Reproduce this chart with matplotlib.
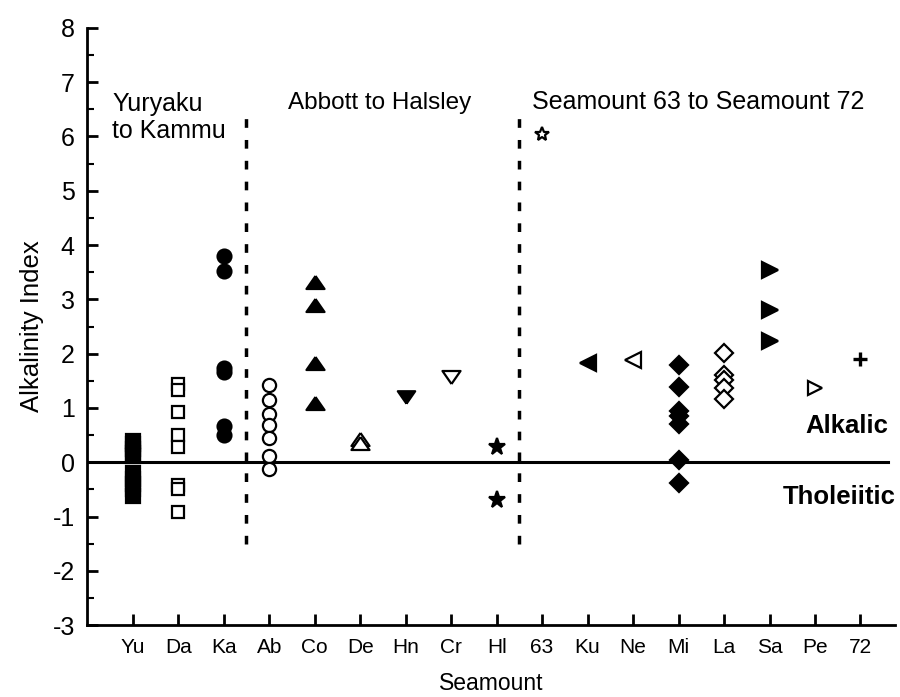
import numpy as np
import matplotlib
matplotlib.use("Agg")
import matplotlib.pyplot as plt
from matplotlib.ticker import MultipleLocator

plt.rcParams['font.family'] = ['Liberation Sans', 'DejaVu Sans']
plt.rcParams['axes.unicode_minus'] = False

# Alkalinity index of lavas, one list per seamount (south to north)
seamounts = ["Yu", "Da", "Ka", "Ab", "Co", "De", "Hn", "Cr", "Hl",
             "63", "Ku", "Ne", "Mi", "La", "Sa", "Pe", "72"]

yu = [0.40, 0.33, 0.25, 0.18, 0.11, -0.20, -0.30, -0.40, -0.50, -0.62]
da = [1.45, 1.33, 0.93, 0.51, 0.29, -0.41, -0.50, -0.92]
ka = [3.80, 3.52, 1.73, 1.66, 0.67, 0.50]
ab = [1.42, 1.14, 0.89, 0.69, 0.44, 0.12, -0.13]
co = [3.32, 2.90, 1.82, 1.10]
de = [0.43, 0.35]
hn = [1.20]
cr = [1.58]
hl = [0.29, -0.70]
s63 = [6.05]
ku = [1.82]
ne = [1.88]
mi = [1.80, 1.38, 0.95, 0.86, 0.70, 0.05, -0.38]
la = [2.02, 1.60, 1.52, 1.36, 1.17]
sa = [3.55, 2.80, 2.23]
pe = [1.36]
s72 = [1.90]

values = [yu, da, ka, ab, co, de, hn, cr, hl, s63, ku, ne, mi, la, sa, pe, s72]

# wide, flat triangles (closed paths so the open ones get a full outline)
tri_up = [(0, 0.72), (-1, -0.72), (1, -0.72), (0, 0.72)]
tri_dn = [(0, -0.72), (-1, 0.72), (1, 0.72), (0, -0.72)]

# marker, size, filled
styles = [
    ('s', 9.5, True), ('s', 9, False), ('o', 10, True), ('o', 9.5, False),
    (tri_up, 13, True), (tri_up, 13, False), (tri_dn, 12.5, True),
    (tri_dn, 13, False), ('*', 12.5, True), ('*', 10, False),
    ('<', 11, True), ('<', 11, False), ('D', 8.8, True), ('D', 8.8, False),
    ('>', 11, True), ('>', 9.5, False), ('+', 9.5, True),
]

fig = plt.figure(figsize=(9, 6.97), dpi=100)
ax = fig.add_axes([0.097, 0.103, 0.897, 0.857])

x = np.arange(len(seamounts))
for xi, vals, (mk, ms, filled) in zip(x, values, styles):
    ax.plot([xi] * len(vals), vals, linestyle='none', marker=mk,
            markersize=ms, markeredgecolor='black',
            markerfacecolor='black' if filled else 'white',
            markeredgewidth=2.4 if mk == '+' else 1.6, zorder=3)

# alkalic / tholeiitic divide
ax.plot([-1, 16.6], [0, 0], color='black', linewidth=2.2, zorder=2)

# group boundaries
for xb in [2.5, 8.5]:
    ax.plot([xb, xb], [-1.5, 6.5], color='black', linewidth=2.5,
            linestyle=(0, (2.5, 3.5)), zorder=1)

ax.text(-0.45, 5.98, "Yuryaku\nto Kammu", fontsize=18, ha='left',
        va='baseline', linespacing=1.15)
ax.text(3.41, 6.5, "Abbott to Halsley", fontsize=17.5, ha='left', va='baseline')
ax.text(8.78, 6.5, "Seamount 63 to Seamount 72", fontsize=18, ha='left',
        va='baseline')
ax.text(16.62, 0.66, "Alkalic", fontsize=18.5, fontweight='bold',
        ha='right', va='center')
ax.text(16.78, -0.64, "Tholeiitic", fontsize=18.5, fontweight='bold',
        ha='right', va='center')

ax.set_xlim(-1.0, 16.75)
ax.set_ylim(-3, 8)
ax.set_xticks(x)
ax.set_xticklabels(seamounts, fontsize=15)
ax.yaxis.set_major_locator(MultipleLocator(1))
ax.yaxis.set_minor_locator(MultipleLocator(0.5))
ax.tick_params(axis='both', which='major', direction='in', length=8,
               width=2, pad=9)
ax.tick_params(axis='y', which='major', labelsize=18)
ax.tick_params(axis='y', which='minor', direction='in', length=5, width=1.5)

ax.set_ylabel("Alkalinity Index", fontsize=18.5, labelpad=6)
ax.set_xlabel("Seamount", fontsize=16.5, labelpad=11)

for side in ['top', 'right']:
    ax.spines[side].set_visible(False)
for side in ['left', 'bottom']:
    ax.spines[side].set_linewidth(2)

fig.savefig("out.png", dpi=100)
